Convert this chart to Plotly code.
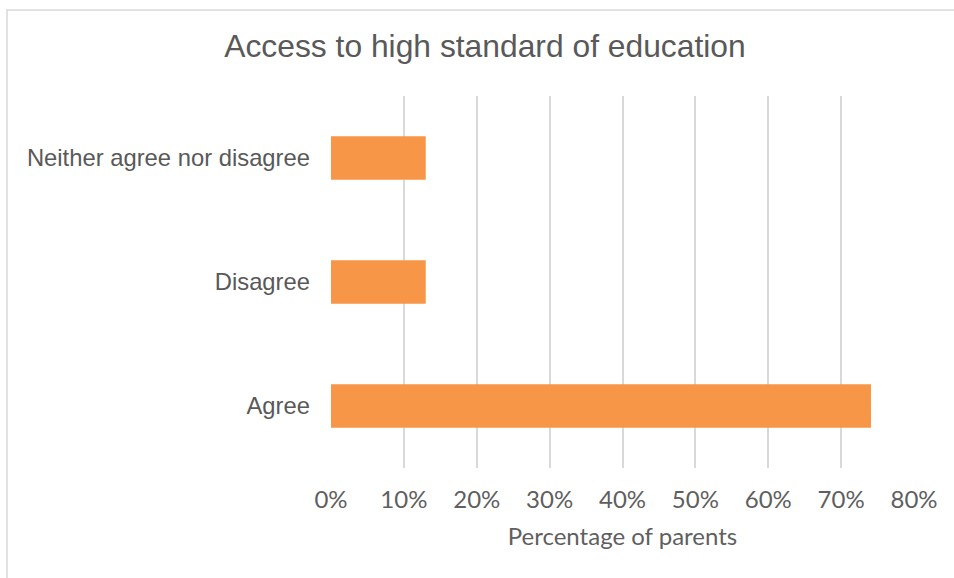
import plotly.graph_objects as go

categories = ["Agree", "Disagree", "Neither agree nor disagree"]
values = [0.741, 0.13, 0.13]
tick_vals = [0, 0.1, 0.2, 0.3, 0.4, 0.5, 0.6, 0.7, 0.8]
tick_text = ["0%", "10%", "20%", "30%", "40%", "50%", "60%", "70%", "80%"]
title_text = "Access to high standard of education"
x_title = "Percentage of parents"

W, H = 954, 578
L, R, T, B = 331, 40, 96, 110
pw, ph = W - L - R, H - T - B

def px_to_paper_x(px):
    return (px - L) / pw

def px_to_paper_y(py):
    return (H - B - py) / ph

fig = go.Figure(go.Bar(
    y=categories, x=values, orientation="h",
    marker=dict(color="#F79646", line=dict(width=0)),
    width=0.35,
))

fig.update_layout(
    width=W, height=H,
    margin=dict(l=L, r=R, t=T, b=B),
    paper_bgcolor="white", plot_bgcolor="white",
    showlegend=False,
    xaxis=dict(
        range=[0, 0.8], tickvals=tick_vals, ticktext=tick_text,
        showgrid=True, gridcolor="#d9d9d9", gridwidth=1.5,
        zeroline=False, showline=False, ticks="",
        tickfont=dict(family="Lato", size=24, color="#5f5f5f"),
        ticklabelstandoff=15,
        title=dict(text=x_title, font=dict(family="Lato", size=24, color="#5f5f5f"), standoff=16),
    ),
    yaxis=dict(
        range=[-0.5, 2.5], showgrid=False, zeroline=False, showline=False, ticks="",
        tickfont=dict(family="Liberation Sans", size=23.8, color="#595959"),
        ticklabelstandoff=20,
    ),
    title=dict(text=title_text, x=485 / W, xref="container", xanchor="center",
               y=1 - 46 / H, yref="container", yanchor="middle",
               font=dict(family="Liberation Sans", size=31.8, color="#595959")),
    shapes=[dict(type="rect", xref="paper", yref="paper",
                 x0=px_to_paper_x(7), x1=px_to_paper_x(1000),
                 y0=px_to_paper_y(700), y1=px_to_paper_y(10),
                 line=dict(color="#d9d9d9", width=1.5), fillcolor="rgba(0,0,0,0)", layer="below")],
)

fig.write_html("out.html")
